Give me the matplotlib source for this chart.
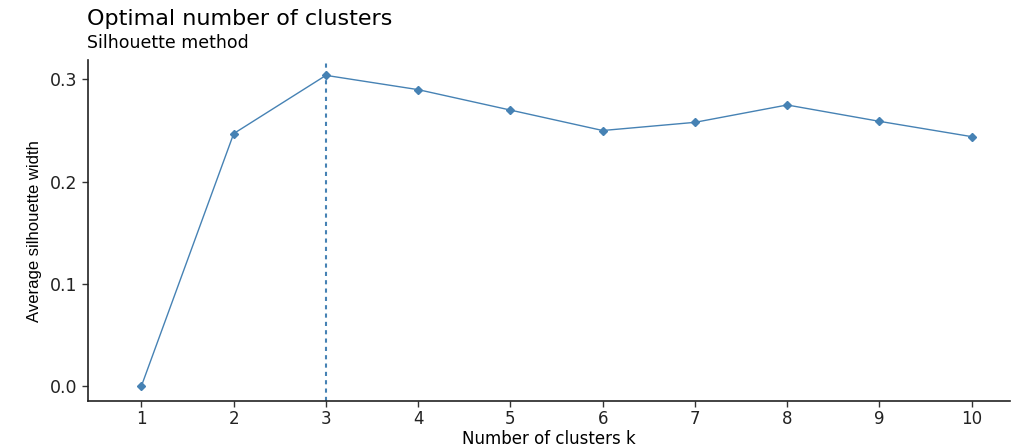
import matplotlib
matplotlib.use('Agg')
from matplotlib import pyplot as plt

# silhouette values
k = [1, 2, 3, 4, 5, 6, 7, 8, 9, 10]
sil_width = [0.0, 0.247, 0.304, 0.290, 0.270, 0.250, 0.258, 0.275, 0.259, 0.244]
best_k = 3
yticks = [0.0, 0.1, 0.2, 0.3]

plt.rcParams['font.family'] = ['DejaVu Sans']

fig = plt.figure(figsize=(10.17, 4.48), dpi=100)
ax = fig.add_axes([0.0865, 0.104, 0.907, 0.762])

col = '#4682B4'
ax.plot(k, sil_width, color=col, lw=1.0, marker='D', ms=4, mfc=col, mec=col)
ax.axvline(best_k, color=col, lw=1.5, ls=(0, (2, 2)))

ax.set_xlim(0.42, 10.42)
ax.set_ylim(-0.0152, 0.319)
ax.set_xticks(k)
ax.set_yticks(yticks)
ax.set_yticklabels(['%.1f' % v for v in yticks])
ax.tick_params(labelsize=12.5, length=4, width=1, colors='#333333', labelcolor='#222222')
ax.tick_params(axis='x', pad=2, labelsize=12)

for s in ['top', 'right']:
    ax.spines[s].set_visible(False)
for s in ['left', 'bottom']:
    ax.spines[s].set_linewidth(1.2)
    ax.spines[s].set_color('#222222')

ax.set_ylabel('Average silhouette width', fontsize=12, labelpad=6,
              family='Liberation Sans')
# x label sits tight against the bottom edge, as in the original
fig.text(0.54, 0.0, 'Number of clusters k', fontsize=12, ha='center', va='bottom')

fig.text(0.086, 0.935, 'Optimal number of clusters', fontsize=16,
         ha='left', va='bottom')
fig.text(0.086, 0.885, 'Silhouette method', fontsize=12.5, ha='left', va='bottom')

fig.savefig('out.png', dpi=100)
